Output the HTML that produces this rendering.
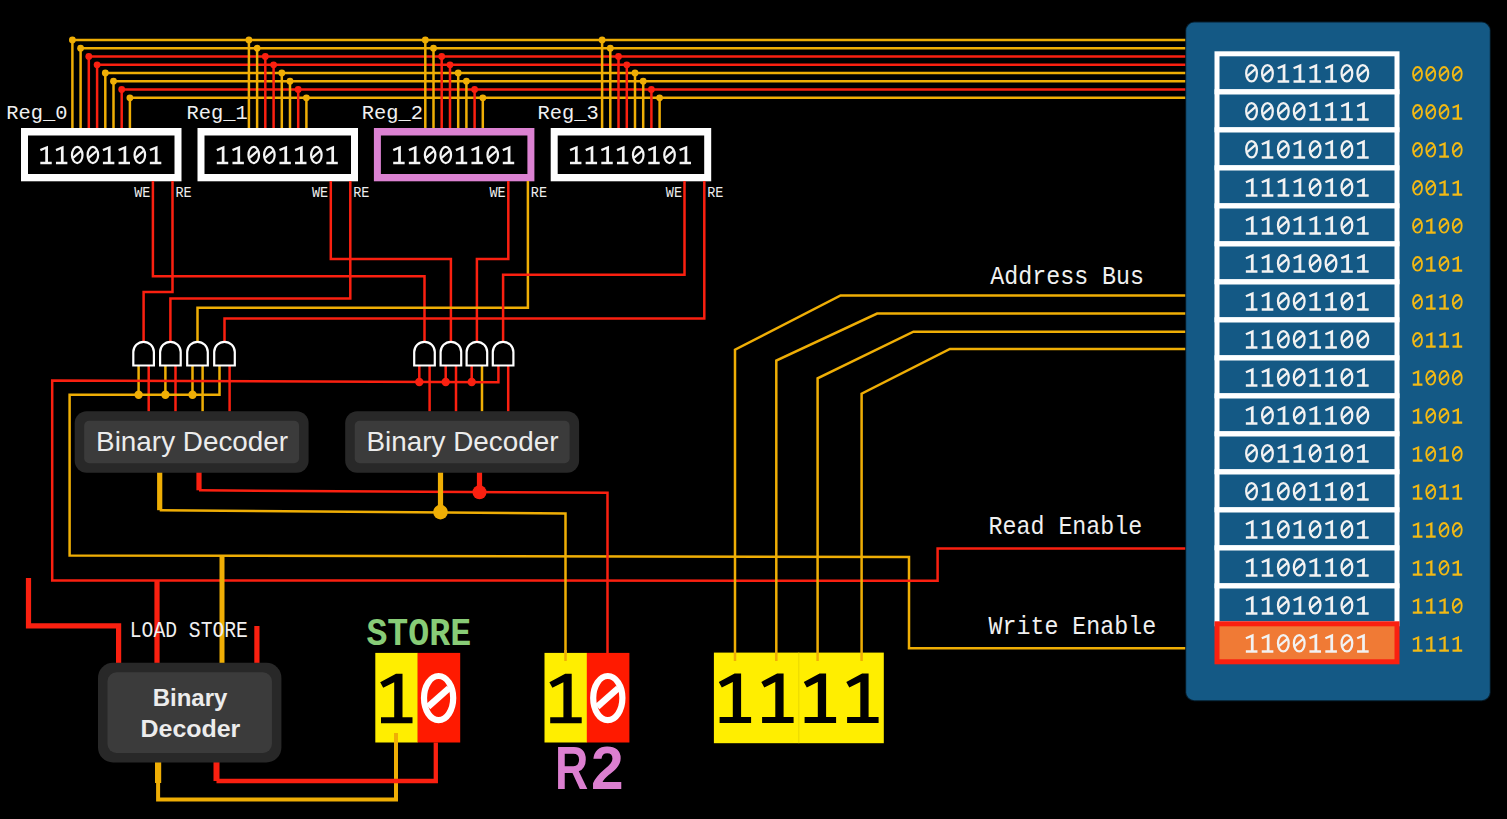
<!DOCTYPE html>
<html><head><meta charset="utf-8"><style>
html,body{margin:0;padding:0;background:#000;overflow:hidden}
svg{display:block}
</style></head><body>
<svg width="1507" height="819" viewBox="0 0 1507 819">
<rect width="1507" height="819" fill="#000"/>
<path d="M72.3 40.0 L1186.0 40.0" stroke="#efae05" stroke-width="2.5" fill="none" stroke-linejoin="miter" stroke-linecap="butt"/>
<path d="M80.5 48.2 L1186.0 48.2" stroke="#efae05" stroke-width="2.5" fill="none" stroke-linejoin="miter" stroke-linecap="butt"/>
<path d="M88.7 56.5 L1186.0 56.5" stroke="#fa2010" stroke-width="2.5" fill="none" stroke-linejoin="miter" stroke-linecap="butt"/>
<path d="M97.0 64.8 L1186.0 64.8" stroke="#fa2010" stroke-width="2.5" fill="none" stroke-linejoin="miter" stroke-linecap="butt"/>
<path d="M105.2 73.0 L1186.0 73.0" stroke="#efae05" stroke-width="2.5" fill="none" stroke-linejoin="miter" stroke-linecap="butt"/>
<path d="M113.4 81.2 L1186.0 81.2" stroke="#efae05" stroke-width="2.5" fill="none" stroke-linejoin="miter" stroke-linecap="butt"/>
<path d="M121.6 89.5 L1186.0 89.5" stroke="#fa2010" stroke-width="2.5" fill="none" stroke-linejoin="miter" stroke-linecap="butt"/>
<path d="M129.8 97.8 L1186.0 97.8" stroke="#efae05" stroke-width="2.5" fill="none" stroke-linejoin="miter" stroke-linecap="butt"/>
<path d="M72.4 40.0 L72.4 129.0" stroke="#efae05" stroke-width="2.5" fill="none" stroke-linejoin="miter" stroke-linecap="butt"/>
<circle cx="72.4" cy="40.0" r="3.4" fill="#efae05"/>
<path d="M80.6 48.2 L80.6 129.0" stroke="#efae05" stroke-width="2.5" fill="none" stroke-linejoin="miter" stroke-linecap="butt"/>
<circle cx="80.6" cy="48.2" r="3.4" fill="#efae05"/>
<path d="M88.8 56.5 L88.8 129.0" stroke="#fa2010" stroke-width="2.5" fill="none" stroke-linejoin="miter" stroke-linecap="butt"/>
<circle cx="88.8" cy="56.5" r="3.4" fill="#fa2010"/>
<path d="M97.1 64.8 L97.1 129.0" stroke="#fa2010" stroke-width="2.5" fill="none" stroke-linejoin="miter" stroke-linecap="butt"/>
<circle cx="97.1" cy="64.8" r="3.4" fill="#fa2010"/>
<path d="M105.3 73.0 L105.3 129.0" stroke="#efae05" stroke-width="2.5" fill="none" stroke-linejoin="miter" stroke-linecap="butt"/>
<circle cx="105.3" cy="73.0" r="3.4" fill="#efae05"/>
<path d="M113.5 81.2 L113.5 129.0" stroke="#efae05" stroke-width="2.5" fill="none" stroke-linejoin="miter" stroke-linecap="butt"/>
<circle cx="113.5" cy="81.2" r="3.4" fill="#efae05"/>
<path d="M121.7 89.5 L121.7 129.0" stroke="#fa2010" stroke-width="2.5" fill="none" stroke-linejoin="miter" stroke-linecap="butt"/>
<circle cx="121.7" cy="89.5" r="3.4" fill="#fa2010"/>
<path d="M129.9 97.8 L129.9 129.0" stroke="#efae05" stroke-width="2.5" fill="none" stroke-linejoin="miter" stroke-linecap="butt"/>
<circle cx="129.9" cy="97.8" r="3.4" fill="#efae05"/>
<path d="M248.9 40.0 L248.9 129.0" stroke="#efae05" stroke-width="2.5" fill="none" stroke-linejoin="miter" stroke-linecap="butt"/>
<circle cx="248.9" cy="40.0" r="3.4" fill="#efae05"/>
<path d="M257.1 48.2 L257.1 129.0" stroke="#efae05" stroke-width="2.5" fill="none" stroke-linejoin="miter" stroke-linecap="butt"/>
<circle cx="257.1" cy="48.2" r="3.4" fill="#efae05"/>
<path d="M265.3 56.5 L265.3 129.0" stroke="#fa2010" stroke-width="2.5" fill="none" stroke-linejoin="miter" stroke-linecap="butt"/>
<circle cx="265.3" cy="56.5" r="3.4" fill="#fa2010"/>
<path d="M273.6 64.8 L273.6 129.0" stroke="#fa2010" stroke-width="2.5" fill="none" stroke-linejoin="miter" stroke-linecap="butt"/>
<circle cx="273.6" cy="64.8" r="3.4" fill="#fa2010"/>
<path d="M281.8 73.0 L281.8 129.0" stroke="#efae05" stroke-width="2.5" fill="none" stroke-linejoin="miter" stroke-linecap="butt"/>
<circle cx="281.8" cy="73.0" r="3.4" fill="#efae05"/>
<path d="M290.0 81.2 L290.0 129.0" stroke="#efae05" stroke-width="2.5" fill="none" stroke-linejoin="miter" stroke-linecap="butt"/>
<circle cx="290.0" cy="81.2" r="3.4" fill="#efae05"/>
<path d="M298.2 89.5 L298.2 129.0" stroke="#fa2010" stroke-width="2.5" fill="none" stroke-linejoin="miter" stroke-linecap="butt"/>
<circle cx="298.2" cy="89.5" r="3.4" fill="#fa2010"/>
<path d="M306.4 97.8 L306.4 129.0" stroke="#efae05" stroke-width="2.5" fill="none" stroke-linejoin="miter" stroke-linecap="butt"/>
<circle cx="306.4" cy="97.8" r="3.4" fill="#efae05"/>
<path d="M425.3 40.0 L425.3 129.0" stroke="#efae05" stroke-width="2.5" fill="none" stroke-linejoin="miter" stroke-linecap="butt"/>
<circle cx="425.3" cy="40.0" r="3.4" fill="#efae05"/>
<path d="M433.5 48.2 L433.5 129.0" stroke="#efae05" stroke-width="2.5" fill="none" stroke-linejoin="miter" stroke-linecap="butt"/>
<circle cx="433.5" cy="48.2" r="3.4" fill="#efae05"/>
<path d="M441.7 56.5 L441.7 129.0" stroke="#fa2010" stroke-width="2.5" fill="none" stroke-linejoin="miter" stroke-linecap="butt"/>
<circle cx="441.7" cy="56.5" r="3.4" fill="#fa2010"/>
<path d="M450.0 64.8 L450.0 129.0" stroke="#fa2010" stroke-width="2.5" fill="none" stroke-linejoin="miter" stroke-linecap="butt"/>
<circle cx="450.0" cy="64.8" r="3.4" fill="#fa2010"/>
<path d="M458.2 73.0 L458.2 129.0" stroke="#efae05" stroke-width="2.5" fill="none" stroke-linejoin="miter" stroke-linecap="butt"/>
<circle cx="458.2" cy="73.0" r="3.4" fill="#efae05"/>
<path d="M466.4 81.2 L466.4 129.0" stroke="#efae05" stroke-width="2.5" fill="none" stroke-linejoin="miter" stroke-linecap="butt"/>
<circle cx="466.4" cy="81.2" r="3.4" fill="#efae05"/>
<path d="M474.6 89.5 L474.6 129.0" stroke="#fa2010" stroke-width="2.5" fill="none" stroke-linejoin="miter" stroke-linecap="butt"/>
<circle cx="474.6" cy="89.5" r="3.4" fill="#fa2010"/>
<path d="M482.8 97.8 L482.8 129.0" stroke="#efae05" stroke-width="2.5" fill="none" stroke-linejoin="miter" stroke-linecap="butt"/>
<circle cx="482.8" cy="97.8" r="3.4" fill="#efae05"/>
<path d="M602.1 40.0 L602.1 129.0" stroke="#efae05" stroke-width="2.5" fill="none" stroke-linejoin="miter" stroke-linecap="butt"/>
<circle cx="602.1" cy="40.0" r="3.4" fill="#efae05"/>
<path d="M610.3 48.2 L610.3 129.0" stroke="#efae05" stroke-width="2.5" fill="none" stroke-linejoin="miter" stroke-linecap="butt"/>
<circle cx="610.3" cy="48.2" r="3.4" fill="#efae05"/>
<path d="M618.5 56.5 L618.5 129.0" stroke="#fa2010" stroke-width="2.5" fill="none" stroke-linejoin="miter" stroke-linecap="butt"/>
<circle cx="618.5" cy="56.5" r="3.4" fill="#fa2010"/>
<path d="M626.8 64.8 L626.8 129.0" stroke="#fa2010" stroke-width="2.5" fill="none" stroke-linejoin="miter" stroke-linecap="butt"/>
<circle cx="626.8" cy="64.8" r="3.4" fill="#fa2010"/>
<path d="M635.0 73.0 L635.0 129.0" stroke="#efae05" stroke-width="2.5" fill="none" stroke-linejoin="miter" stroke-linecap="butt"/>
<circle cx="635.0" cy="73.0" r="3.4" fill="#efae05"/>
<path d="M643.2 81.2 L643.2 129.0" stroke="#efae05" stroke-width="2.5" fill="none" stroke-linejoin="miter" stroke-linecap="butt"/>
<circle cx="643.2" cy="81.2" r="3.4" fill="#efae05"/>
<path d="M651.4 89.5 L651.4 129.0" stroke="#fa2010" stroke-width="2.5" fill="none" stroke-linejoin="miter" stroke-linecap="butt"/>
<circle cx="651.4" cy="89.5" r="3.4" fill="#fa2010"/>
<path d="M659.6 97.8 L659.6 129.0" stroke="#efae05" stroke-width="2.5" fill="none" stroke-linejoin="miter" stroke-linecap="butt"/>
<circle cx="659.6" cy="97.8" r="3.4" fill="#efae05"/>
<rect x="21.0" y="128.0" width="160.5" height="53.3" rx="0.0" fill="#ffffff" />
<rect x="28.0" y="135.5" width="146.5" height="38.5" rx="0.0" fill="#000" />
<g fill="none" stroke="#f4f4f4" stroke-width="2.22"><ellipse cx="77.22" cy="155.01" rx="5.27" ry="8.06"/><path d="M72.91 157.93 L81.49 150.52"/><ellipse cx="92.87" cy="155.01" rx="5.27" ry="8.06"/><path d="M88.56 157.93 L97.14 150.52"/><ellipse cx="139.83" cy="155.01" rx="5.27" ry="8.06"/><path d="M135.51 157.93 L144.09 150.52"/></g>
<g fill="#f4f4f4"><path d="M47.98 145.71 L47.98 163.06 L45.26 163.06 L45.26 149.22 L40.82 151.17 L39.91 149.09 Z M40.30 161.83 H51.74 V164.30 H40.30 Z"/><path d="M63.63 145.71 L63.63 163.06 L60.91 163.06 L60.91 149.22 L56.47 151.17 L55.56 149.09 Z M55.95 161.83 H67.39 V164.30 H55.95 Z"/><path d="M110.59 145.71 L110.59 163.06 L107.87 163.06 L107.87 149.22 L103.43 151.17 L102.52 149.09 Z M102.91 161.83 H114.35 V164.30 H102.91 Z"/><path d="M126.24 145.71 L126.24 163.06 L123.52 163.06 L123.52 149.22 L119.08 151.17 L118.17 149.09 Z M118.56 161.83 H130.00 V164.30 H118.56 Z"/><path d="M157.54 145.71 L157.54 163.06 L154.83 163.06 L154.83 149.22 L150.39 151.17 L149.48 149.09 Z M149.87 161.83 H161.31 V164.30 H149.87 Z"/></g>
<text transform="translate(6.30 118.90) scale(1.000 0.970)" font-family="'Liberation Mono', monospace" font-size="20.4" fill="#f0f0f0" text-anchor="start" font-weight="normal">Reg_0</text>
<text transform="translate(150.40 196.80) scale(1.000 1.100)" font-family="'Liberation Mono', monospace" font-size="13.5" fill="#eee" text-anchor="end" font-weight="normal">WE</text>
<text transform="translate(175.40 196.80) scale(1.000 1.100)" font-family="'Liberation Mono', monospace" font-size="13.5" fill="#eee" text-anchor="start" font-weight="normal">RE</text>
<rect x="197.5" y="128.0" width="160.5" height="53.3" rx="0.0" fill="#ffffff" />
<rect x="204.5" y="135.5" width="146.5" height="38.5" rx="0.0" fill="#000" />
<g fill="none" stroke="#f4f4f4" stroke-width="2.22"><ellipse cx="253.72" cy="155.01" rx="5.27" ry="8.06"/><path d="M249.41 157.93 L257.99 150.52"/><ellipse cx="269.37" cy="155.01" rx="5.27" ry="8.06"/><path d="M265.06 157.93 L273.64 150.52"/><ellipse cx="316.33" cy="155.01" rx="5.27" ry="8.06"/><path d="M312.01 157.93 L320.59 150.52"/></g>
<g fill="#f4f4f4"><path d="M224.48 145.71 L224.48 163.06 L221.76 163.06 L221.76 149.22 L217.32 151.17 L216.41 149.09 Z M216.80 161.83 H228.24 V164.30 H216.80 Z"/><path d="M240.13 145.71 L240.13 163.06 L237.41 163.06 L237.41 149.22 L232.97 151.17 L232.06 149.09 Z M232.45 161.83 H243.89 V164.30 H232.45 Z"/><path d="M287.09 145.71 L287.09 163.06 L284.37 163.06 L284.37 149.22 L279.93 151.17 L279.02 149.09 Z M279.41 161.83 H290.85 V164.30 H279.41 Z"/><path d="M302.74 145.71 L302.74 163.06 L300.02 163.06 L300.02 149.22 L295.58 151.17 L294.67 149.09 Z M295.06 161.83 H306.50 V164.30 H295.06 Z"/><path d="M334.04 145.71 L334.04 163.06 L331.33 163.06 L331.33 149.22 L326.89 151.17 L325.98 149.09 Z M326.37 161.83 H337.81 V164.30 H326.37 Z"/></g>
<text transform="translate(186.50 118.90) scale(1.000 0.970)" font-family="'Liberation Mono', monospace" font-size="20.4" fill="#f0f0f0" text-anchor="start" font-weight="normal">Reg_1</text>
<text transform="translate(328.20 196.80) scale(1.000 1.100)" font-family="'Liberation Mono', monospace" font-size="13.5" fill="#eee" text-anchor="end" font-weight="normal">WE</text>
<text transform="translate(353.20 196.80) scale(1.000 1.100)" font-family="'Liberation Mono', monospace" font-size="13.5" fill="#eee" text-anchor="start" font-weight="normal">RE</text>
<rect x="373.9" y="128.0" width="160.5" height="53.3" rx="0.0" fill="#dc82d2" />
<rect x="380.9" y="135.5" width="146.5" height="38.5" rx="0.0" fill="#000" />
<g fill="none" stroke="#f4f4f4" stroke-width="2.22"><ellipse cx="430.12" cy="155.01" rx="5.27" ry="8.06"/><path d="M425.81 157.93 L434.39 150.52"/><ellipse cx="445.77" cy="155.01" rx="5.27" ry="8.06"/><path d="M441.46 157.93 L450.04 150.52"/><ellipse cx="492.73" cy="155.01" rx="5.27" ry="8.06"/><path d="M488.41 157.93 L496.99 150.52"/></g>
<g fill="#f4f4f4"><path d="M400.88 145.71 L400.88 163.06 L398.16 163.06 L398.16 149.22 L393.72 151.17 L392.81 149.09 Z M393.20 161.83 H404.64 V164.30 H393.20 Z"/><path d="M416.53 145.71 L416.53 163.06 L413.81 163.06 L413.81 149.22 L409.37 151.17 L408.46 149.09 Z M408.85 161.83 H420.29 V164.30 H408.85 Z"/><path d="M463.49 145.71 L463.49 163.06 L460.77 163.06 L460.77 149.22 L456.33 151.17 L455.42 149.09 Z M455.81 161.83 H467.25 V164.30 H455.81 Z"/><path d="M479.14 145.71 L479.14 163.06 L476.42 163.06 L476.42 149.22 L471.98 151.17 L471.07 149.09 Z M471.46 161.83 H482.90 V164.30 H471.46 Z"/><path d="M510.44 145.71 L510.44 163.06 L507.73 163.06 L507.73 149.22 L503.29 151.17 L502.38 149.09 Z M502.77 161.83 H514.21 V164.30 H502.77 Z"/></g>
<text transform="translate(361.80 118.90) scale(1.000 0.970)" font-family="'Liberation Mono', monospace" font-size="20.4" fill="#f0f0f0" text-anchor="start" font-weight="normal">Reg_2</text>
<text transform="translate(505.70 196.80) scale(1.000 1.100)" font-family="'Liberation Mono', monospace" font-size="13.5" fill="#eee" text-anchor="end" font-weight="normal">WE</text>
<text transform="translate(530.80 196.80) scale(1.000 1.100)" font-family="'Liberation Mono', monospace" font-size="13.5" fill="#eee" text-anchor="start" font-weight="normal">RE</text>
<rect x="550.7" y="128.0" width="160.5" height="53.3" rx="0.0" fill="#ffffff" />
<rect x="557.7" y="135.5" width="146.5" height="38.5" rx="0.0" fill="#000" />
<g fill="none" stroke="#f4f4f4" stroke-width="2.22"><ellipse cx="638.23" cy="155.01" rx="5.27" ry="8.06"/><path d="M633.91 157.93 L642.49 150.52"/><ellipse cx="669.53" cy="155.01" rx="5.27" ry="8.06"/><path d="M665.21 157.93 L673.79 150.52"/></g>
<g fill="#f4f4f4"><path d="M577.68 145.71 L577.68 163.06 L574.96 163.06 L574.96 149.22 L570.52 151.17 L569.61 149.09 Z M570.00 161.83 H581.44 V164.30 H570.00 Z"/><path d="M593.33 145.71 L593.33 163.06 L590.61 163.06 L590.61 149.22 L586.17 151.17 L585.26 149.09 Z M585.65 161.83 H597.09 V164.30 H585.65 Z"/><path d="M608.98 145.71 L608.98 163.06 L606.27 163.06 L606.27 149.22 L601.83 151.17 L600.92 149.09 Z M601.31 161.83 H612.75 V164.30 H601.31 Z"/><path d="M624.63 145.71 L624.63 163.06 L621.92 163.06 L621.92 149.22 L617.48 151.17 L616.57 149.09 Z M616.96 161.83 H628.40 V164.30 H616.96 Z"/><path d="M655.94 145.71 L655.94 163.06 L653.22 163.06 L653.22 149.22 L648.78 151.17 L647.87 149.09 Z M648.26 161.83 H659.70 V164.30 H648.26 Z"/><path d="M687.24 145.71 L687.24 163.06 L684.53 163.06 L684.53 149.22 L680.09 151.17 L679.18 149.09 Z M679.57 161.83 H691.01 V164.30 H679.57 Z"/></g>
<text transform="translate(537.60 118.90) scale(1.000 0.970)" font-family="'Liberation Mono', monospace" font-size="20.4" fill="#f0f0f0" text-anchor="start" font-weight="normal">Reg_3</text>
<text transform="translate(682.00 196.80) scale(1.000 1.100)" font-family="'Liberation Mono', monospace" font-size="13.5" fill="#eee" text-anchor="end" font-weight="normal">WE</text>
<text transform="translate(707.20 196.80) scale(1.000 1.100)" font-family="'Liberation Mono', monospace" font-size="13.5" fill="#eee" text-anchor="start" font-weight="normal">RE</text>
<path d="M152.9 181.0 L152.9 276.2 L424.5 276.2 L424.5 341.0" stroke="#fa2010" stroke-width="2.5" fill="none" stroke-linejoin="miter" stroke-linecap="butt"/>
<path d="M172.5 181.0 L172.5 292.1 L143.6 292.1 L143.6 341.0" stroke="#fa2010" stroke-width="2.5" fill="none" stroke-linejoin="miter" stroke-linecap="butt"/>
<path d="M330.8 181.0 L330.8 259.0 L450.9 259.0 L450.9 341.0" stroke="#fa2010" stroke-width="2.5" fill="none" stroke-linejoin="miter" stroke-linecap="butt"/>
<path d="M350.3 181.0 L350.3 298.5 L170.4 298.5 L170.4 341.0" stroke="#fa2010" stroke-width="2.5" fill="none" stroke-linejoin="miter" stroke-linecap="butt"/>
<path d="M508.3 181.0 L508.3 259.0 L476.9 259.0 L476.9 341.0" stroke="#fa2010" stroke-width="2.5" fill="none" stroke-linejoin="miter" stroke-linecap="butt"/>
<path d="M527.9 181.0 L527.9 307.8 L197.5 307.8 L197.5 341.0" stroke="#efae05" stroke-width="2.5" fill="none" stroke-linejoin="miter" stroke-linecap="butt"/>
<path d="M684.5 181.0 L684.5 274.8 L503.1 274.8 L503.1 341.0" stroke="#fa2010" stroke-width="2.5" fill="none" stroke-linejoin="miter" stroke-linecap="butt"/>
<path d="M704.3 181.0 L704.3 318.6 L224.5 318.6 L224.5 341.0" stroke="#fa2010" stroke-width="2.5" fill="none" stroke-linejoin="miter" stroke-linecap="butt"/>
<path d="M148.7 366.0 L148.7 411.5" stroke="#fa2010" stroke-width="2.5" fill="none" stroke-linejoin="miter" stroke-linecap="butt"/>
<path d="M175.5 366.0 L175.5 411.5" stroke="#fa2010" stroke-width="2.5" fill="none" stroke-linejoin="miter" stroke-linecap="butt"/>
<path d="M202.6 366.0 L202.6 411.5" stroke="#efae05" stroke-width="2.5" fill="none" stroke-linejoin="miter" stroke-linecap="butt"/>
<path d="M229.6 366.0 L229.6 411.5" stroke="#fa2010" stroke-width="2.5" fill="none" stroke-linejoin="miter" stroke-linecap="butt"/>
<path d="M138.6 366.0 L138.6 394.7" stroke="#efae05" stroke-width="2.5" fill="none" stroke-linejoin="miter" stroke-linecap="butt"/>
<path d="M165.4 366.0 L165.4 394.7" stroke="#efae05" stroke-width="2.5" fill="none" stroke-linejoin="miter" stroke-linecap="butt"/>
<path d="M192.5 366.0 L192.5 394.7" stroke="#efae05" stroke-width="2.5" fill="none" stroke-linejoin="miter" stroke-linecap="butt"/>
<path d="M429.6 366.0 L429.6 411.5" stroke="#fa2010" stroke-width="2.5" fill="none" stroke-linejoin="miter" stroke-linecap="butt"/>
<path d="M456.0 366.0 L456.0 411.5" stroke="#fa2010" stroke-width="2.5" fill="none" stroke-linejoin="miter" stroke-linecap="butt"/>
<path d="M482.0 366.0 L482.0 411.5" stroke="#efae05" stroke-width="2.5" fill="none" stroke-linejoin="miter" stroke-linecap="butt"/>
<path d="M508.2 366.0 L508.2 411.5" stroke="#fa2010" stroke-width="2.5" fill="none" stroke-linejoin="miter" stroke-linecap="butt"/>
<path d="M419.3 366.0 L419.3 382.0" stroke="#fa2010" stroke-width="2.5" fill="none" stroke-linejoin="miter" stroke-linecap="butt"/>
<path d="M445.7 366.0 L445.7 382.0" stroke="#fa2010" stroke-width="2.5" fill="none" stroke-linejoin="miter" stroke-linecap="butt"/>
<path d="M471.7 366.0 L471.7 382.0" stroke="#fa2010" stroke-width="2.5" fill="none" stroke-linejoin="miter" stroke-linecap="butt"/>
<path d="M219.5 366.0 L219.5 394.7 L69.6 394.7 L69.6 555.5 L909.0 556.9 L909.0 648.2 L1186.0 648.2" stroke="#efae05" stroke-width="2.5" fill="none" stroke-linejoin="miter" stroke-linecap="butt"/>
<path d="M498.4 366.0 L498.4 382.2 L52.2 380.6 L52.2 580.4 L937.6 580.8 L937.6 548.4 L1186.0 548.4" stroke="#fa2010" stroke-width="2.5" fill="none" stroke-linejoin="miter" stroke-linecap="butt"/>
<circle cx="138.6" cy="394.7" r="4.2" fill="#efae05"/>
<circle cx="165.4" cy="394.7" r="4.2" fill="#efae05"/>
<circle cx="192.5" cy="394.7" r="4.2" fill="#efae05"/>
<circle cx="419.3" cy="382.0" r="4.2" fill="#fa2010"/>
<circle cx="445.7" cy="382.0" r="4.2" fill="#fa2010"/>
<circle cx="471.7" cy="382.0" r="4.2" fill="#fa2010"/>
<path d="M133.3 365.5 L153.9 365.5 L153.9 352.1 A10.3 10.3 0 0 0 133.3 352.1 Z" stroke="#fff" stroke-width="2.2" fill="#000"/>
<path d="M160.1 365.5 L180.7 365.5 L180.7 352.1 A10.3 10.3 0 0 0 160.1 352.1 Z" stroke="#fff" stroke-width="2.2" fill="#000"/>
<path d="M187.2 365.5 L207.8 365.5 L207.8 352.1 A10.3 10.3 0 0 0 187.2 352.1 Z" stroke="#fff" stroke-width="2.2" fill="#000"/>
<path d="M214.2 365.5 L234.8 365.5 L234.8 352.1 A10.3 10.3 0 0 0 214.2 352.1 Z" stroke="#fff" stroke-width="2.2" fill="#000"/>
<path d="M414.2 365.5 L434.8 365.5 L434.8 352.1 A10.3 10.3 0 0 0 414.2 352.1 Z" stroke="#fff" stroke-width="2.2" fill="#000"/>
<path d="M440.6 365.5 L461.2 365.5 L461.2 352.1 A10.3 10.3 0 0 0 440.6 352.1 Z" stroke="#fff" stroke-width="2.2" fill="#000"/>
<path d="M466.6 365.5 L487.2 365.5 L487.2 352.1 A10.3 10.3 0 0 0 466.6 352.1 Z" stroke="#fff" stroke-width="2.2" fill="#000"/>
<path d="M492.8 365.5 L513.4 365.5 L513.4 352.1 A10.3 10.3 0 0 0 492.8 352.1 Z" stroke="#fff" stroke-width="2.2" fill="#000"/>
<path d="M159.7 472.0 L159.7 510.2" stroke="#efae05" stroke-width="5.2" fill="none" stroke-linejoin="miter" stroke-linecap="butt"/>
<path d="M159.7 510.2 L565.5 513.5 L565.5 661.0" stroke="#efae05" stroke-width="2.5" fill="none" stroke-linejoin="miter" stroke-linecap="butt"/>
<path d="M199.0 472.0 L199.0 490.3" stroke="#fa2010" stroke-width="5.2" fill="none" stroke-linejoin="miter" stroke-linecap="butt"/>
<path d="M199.0 490.3 L607.5 492.8 L607.5 653.0" stroke="#fa2010" stroke-width="2.5" fill="none" stroke-linejoin="miter" stroke-linecap="butt"/>
<path d="M440.5 472.0 L440.5 512.0" stroke="#efae05" stroke-width="5.2" fill="none" stroke-linejoin="miter" stroke-linecap="butt"/>
<circle cx="440.5" cy="512.1" r="7.3" fill="#efae05"/>
<path d="M479.5 472.0 L479.5 492.0" stroke="#fa2010" stroke-width="5.2" fill="none" stroke-linejoin="miter" stroke-linecap="butt"/>
<circle cx="479.5" cy="492.2" r="7.0" fill="#fa2010"/>
<rect x="74.7" y="411.3" width="233.9" height="61.5" rx="12.0" fill="#282828" />
<rect x="84.2" y="420.8" width="214.9" height="42.5" rx="5.0" fill="#3b3b3b" />
<rect x="345.2" y="411.3" width="233.9" height="61.5" rx="12.0" fill="#282828" />
<rect x="354.7" y="420.8" width="214.9" height="42.5" rx="5.0" fill="#3b3b3b" />
<text transform="translate(192.10 451.00) scale(1.010 0.970)" font-family="'Liberation Sans', sans-serif" font-size="27.6" fill="#ececec" text-anchor="middle" font-weight="normal">Binary Decoder</text>
<text transform="translate(462.50 451.00) scale(1.010 0.970)" font-family="'Liberation Sans', sans-serif" font-size="27.6" fill="#ececec" text-anchor="middle" font-weight="normal">Binary Decoder</text>
<path d="M28.5 578.0 L28.5 625.8 L118.6 625.8 L118.6 663.0" stroke="#fa2010" stroke-width="5.2" fill="none" stroke-linejoin="miter" stroke-linecap="butt"/>
<path d="M157.0 580.4 L157.0 663.0" stroke="#fa2010" stroke-width="5.2" fill="none" stroke-linejoin="miter" stroke-linecap="butt"/>
<path d="M222.0 555.5 L222.0 663.0" stroke="#efae05" stroke-width="5.0" fill="none" stroke-linejoin="miter" stroke-linecap="butt"/>
<path d="M256.9 626.0 L256.9 663.0" stroke="#fa2010" stroke-width="5.2" fill="none" stroke-linejoin="miter" stroke-linecap="butt"/>
<path d="M158.1 762.0 L158.1 783.0" stroke="#efae05" stroke-width="6.2" fill="none" stroke-linejoin="miter" stroke-linecap="butt"/>
<path d="M158.1 783.0 L158.1 799.4 L396.0 799.4 L396.0 733.0" stroke="#efae05" stroke-width="4.0" fill="none" stroke-linejoin="miter" stroke-linecap="butt"/>
<path d="M216.5 762.0 L216.5 781.0" stroke="#fa2010" stroke-width="6.0" fill="none" stroke-linejoin="miter" stroke-linecap="butt"/>
<path d="M216.5 781.0 L435.8 781.0 L435.8 742.5" stroke="#fa2010" stroke-width="4.3" fill="none" stroke-linejoin="miter" stroke-linecap="butt"/>
<rect x="98.0" y="662.8" width="183.4" height="99.6" rx="15.0" fill="#282828" />
<rect x="107.5" y="672.3" width="164.4" height="80.6" rx="9.0" fill="#3b3b3b" />
<text transform="translate(190.00 705.50) scale(1.000 1.000)" font-family="'Liberation Sans', sans-serif" font-size="24.0" fill="#ececec" text-anchor="middle" font-weight="bold">Binary</text>
<text transform="translate(190.40 736.60) scale(1.040 0.970)" font-family="'Liberation Sans', sans-serif" font-size="24.0" fill="#ececec" text-anchor="middle" font-weight="bold">Decoder</text>
<text transform="translate(129.80 636.50) scale(1.000 1.100)" font-family="'Liberation Mono', monospace" font-size="19.7" fill="#f0f0f0" text-anchor="start" font-weight="normal">LOAD STORE</text>
<rect x="375.3" y="652.9" width="42.6" height="89.6" rx="0.0" fill="#ffee00" />
<rect x="417.6" y="652.9" width="42.6" height="89.6" rx="0.0" fill="#ff1a00" />
<path d="M402.5 673.7 L402.5 717.9 L394.2 717.9 L394.2 682.2 L383.2 687.7 L380.2 682.2 L396.0 673.7 Z M381.0 717.2 H412.5 V723.2 H381.0 Z" fill="#000"/>
<ellipse cx="438.6" cy="698.1" rx="14.6" ry="22.1" fill="none" stroke="#fff" stroke-width="6.2"/>
<path d="M428.1 706.7 L449.1 688.1" stroke="#fff" stroke-width="6.5"/>
<rect x="544.5" y="652.9" width="42.6" height="89.6" rx="0.0" fill="#ffee00" />
<rect x="586.8" y="652.9" width="42.6" height="89.6" rx="0.0" fill="#ff1a00" />
<path d="M571.7 673.7 L571.7 717.9 L563.4 717.9 L563.4 682.2 L552.4 687.7 L549.4 682.2 L565.2 673.7 Z M550.2 717.2 H581.7 V723.2 H550.2 Z" fill="#000"/>
<ellipse cx="607.8" cy="698.1" rx="14.6" ry="22.1" fill="none" stroke="#fff" stroke-width="6.2"/>
<path d="M597.3 706.7 L618.3 688.1" stroke="#fff" stroke-width="6.5"/>
<rect x="713.9" y="652.6" width="169.9" height="90.6" rx="0.0" fill="#ffee00" />
<path d="M798.8 652.6 V743.2" stroke="#e8d800" stroke-width="1"/>
<path d="M741.1 673.4 L741.1 717.6 L732.8 717.6 L732.8 681.9 L721.8 687.4 L718.8 681.9 L734.6 673.4 Z M719.6 716.9 H751.1 V722.9 H719.6 Z" fill="#000"/>
<path d="M783.6 673.4 L783.6 717.6 L775.3 717.6 L775.3 681.9 L764.3 687.4 L761.3 681.9 L777.1 673.4 Z M762.1 716.9 H793.6 V722.9 H762.1 Z" fill="#000"/>
<path d="M826.1 673.4 L826.1 717.6 L817.8 717.6 L817.8 681.9 L806.8 687.4 L803.8 681.9 L819.6 673.4 Z M804.6 716.9 H836.1 V722.9 H804.6 Z" fill="#000"/>
<path d="M868.6 673.4 L868.6 717.6 L860.3 717.6 L860.3 681.9 L849.3 687.4 L846.3 681.9 L862.1 673.4 Z M847.1 716.9 H878.6 V722.9 H847.1 Z" fill="#000"/>
<path d="M565.5 650.0 L565.5 661.0" stroke="#efae05" stroke-width="2.5" fill="none" stroke-linejoin="miter" stroke-linecap="butt"/>
<path d="M396.0 745.0 L396.0 733.0" stroke="#efae05" stroke-width="4.0" fill="none" stroke-linejoin="miter" stroke-linecap="butt"/>
<text transform="translate(366.40 645.00) scale(1.000 1.100)" font-family="'Liberation Mono', monospace" font-size="34.9" fill="#88cc77" text-anchor="start" font-weight="bold">STORE</text>
<text transform="translate(555.10 788.80) scale(0.857 1.120)" font-family="'Liberation Sans', sans-serif" font-size="53.8" fill="#dc7fd0" text-anchor="start" font-weight="bold">R</text>
<text transform="translate(590.90 788.80) scale(1.090 1.120)" font-family="'Liberation Sans', sans-serif" font-size="53.8" fill="#dc7fd0" text-anchor="start" font-weight="bold">2</text>
<path d="M735.0 661.0 L735.0 349.7 L840.6 295.5 L1186.0 295.5" stroke="#efae05" stroke-width="2.5" fill="none" stroke-linejoin="miter" stroke-linecap="butt"/>
<path d="M776.3 661.0 L776.3 360.5 L877.1 313.5 L1186.0 313.5" stroke="#efae05" stroke-width="2.5" fill="none" stroke-linejoin="miter" stroke-linecap="butt"/>
<path d="M817.6 661.0 L817.6 378.4 L913.4 331.7 L1186.0 331.7" stroke="#efae05" stroke-width="2.5" fill="none" stroke-linejoin="miter" stroke-linecap="butt"/>
<path d="M861.6 661.0 L861.6 393.7 L949.9 349.0 L1186.0 349.0" stroke="#efae05" stroke-width="2.5" fill="none" stroke-linejoin="miter" stroke-linecap="butt"/>
<text transform="translate(990.30 284.40) scale(1.000 1.100)" font-family="'Liberation Mono', monospace" font-size="23.3" fill="#f0f0f0" text-anchor="start" font-weight="normal">Address Bus</text>
<text transform="translate(988.50 533.70) scale(1.000 1.100)" font-family="'Liberation Mono', monospace" font-size="23.3" fill="#f0f0f0" text-anchor="start" font-weight="normal">Read Enable</text>
<text transform="translate(988.50 633.80) scale(1.000 1.100)" font-family="'Liberation Mono', monospace" font-size="23.3" fill="#f0f0f0" text-anchor="start" font-weight="normal">Write Enable</text>
<rect x="1185.2" y="21.6" width="305.6" height="679.6" rx="9.0" fill="#061c2a" />
<rect x="1186.2" y="22.6" width="303.6" height="677.6" rx="8.0" fill="#145985" />
<rect x="1217" y="53.8" width="180" height="38" fill="none" stroke="#fff" stroke-width="5"/>
<rect x="1217" y="91.8" width="180" height="38" fill="none" stroke="#fff" stroke-width="5"/>
<rect x="1217" y="129.8" width="180" height="38" fill="none" stroke="#fff" stroke-width="5"/>
<rect x="1217" y="167.8" width="180" height="38" fill="none" stroke="#fff" stroke-width="5"/>
<rect x="1217" y="205.8" width="180" height="38" fill="none" stroke="#fff" stroke-width="5"/>
<rect x="1217" y="243.8" width="180" height="38" fill="none" stroke="#fff" stroke-width="5"/>
<rect x="1217" y="281.8" width="180" height="38" fill="none" stroke="#fff" stroke-width="5"/>
<rect x="1217" y="319.8" width="180" height="38" fill="none" stroke="#fff" stroke-width="5"/>
<rect x="1217" y="357.8" width="180" height="38" fill="none" stroke="#fff" stroke-width="5"/>
<rect x="1217" y="395.8" width="180" height="38" fill="none" stroke="#fff" stroke-width="5"/>
<rect x="1217" y="433.8" width="180" height="38" fill="none" stroke="#fff" stroke-width="5"/>
<rect x="1217" y="471.8" width="180" height="38" fill="none" stroke="#fff" stroke-width="5"/>
<rect x="1217" y="509.8" width="180" height="38" fill="none" stroke="#fff" stroke-width="5"/>
<rect x="1217" y="547.8" width="180" height="38" fill="none" stroke="#fff" stroke-width="5"/>
<rect x="1217" y="585.8" width="180" height="38" fill="none" stroke="#fff" stroke-width="5"/>
<rect x="1217" y="623.8" width="180" height="38" fill="#f07a35" stroke="#fa2010" stroke-width="5"/>
<g fill="none" stroke="#f2f2f2" stroke-width="2.26"><ellipse cx="1251.55" cy="73.26" rx="5.35" ry="8.18"/><path d="M1247.16 76.23 L1255.88 68.71"/><ellipse cx="1267.44" cy="73.26" rx="5.35" ry="8.18"/><path d="M1263.06 76.23 L1271.77 68.71"/><ellipse cx="1346.90" cy="73.26" rx="5.35" ry="8.18"/><path d="M1342.52 76.23 L1351.23 68.71"/><ellipse cx="1362.80" cy="73.26" rx="5.35" ry="8.18"/><path d="M1358.41 76.23 L1367.13 68.71"/></g>
<g fill="#f2f2f2"><path d="M1285.42 63.82 L1285.42 81.45 L1282.67 81.45 L1282.67 67.39 L1278.16 69.37 L1277.23 67.26 Z M1277.63 80.19 H1289.25 V82.70 H1277.63 Z"/><path d="M1301.32 63.82 L1301.32 81.45 L1298.56 81.45 L1298.56 67.39 L1294.05 69.37 L1293.13 67.26 Z M1293.52 80.19 H1305.14 V82.70 H1293.52 Z"/><path d="M1317.21 63.82 L1317.21 81.45 L1314.45 81.45 L1314.45 67.39 L1309.94 69.37 L1309.02 67.26 Z M1309.42 80.19 H1321.03 V82.70 H1309.42 Z"/><path d="M1333.10 63.82 L1333.10 81.45 L1330.34 81.45 L1330.34 67.39 L1325.84 69.37 L1324.91 67.26 Z M1325.31 80.19 H1336.92 V82.70 H1325.31 Z"/></g>
<g fill="none" stroke="#f2b914" stroke-width="1.88"><ellipse cx="1417.52" cy="73.83" rx="4.46" ry="6.82"/><path d="M1413.87 76.31 L1421.13 70.04"/><ellipse cx="1430.77" cy="73.83" rx="4.46" ry="6.82"/><path d="M1427.11 76.31 L1434.37 70.04"/><ellipse cx="1444.01" cy="73.83" rx="4.46" ry="6.82"/><path d="M1440.36 76.31 L1447.62 70.04"/><ellipse cx="1457.25" cy="73.83" rx="4.46" ry="6.82"/><path d="M1453.60 76.31 L1460.86 70.04"/></g>
<g fill="none" stroke="#f2f2f2" stroke-width="2.26"><ellipse cx="1251.55" cy="111.26" rx="5.35" ry="8.18"/><path d="M1247.16 114.23 L1255.88 106.71"/><ellipse cx="1267.44" cy="111.26" rx="5.35" ry="8.18"/><path d="M1263.06 114.23 L1271.77 106.71"/><ellipse cx="1283.33" cy="111.26" rx="5.35" ry="8.18"/><path d="M1278.95 114.23 L1287.66 106.71"/><ellipse cx="1299.22" cy="111.26" rx="5.35" ry="8.18"/><path d="M1294.84 114.23 L1303.55 106.71"/></g>
<g fill="#f2f2f2"><path d="M1317.21 101.82 L1317.21 119.45 L1314.45 119.45 L1314.45 105.39 L1309.94 107.37 L1309.02 105.26 Z M1309.42 118.19 H1321.03 V120.70 H1309.42 Z"/><path d="M1333.10 101.82 L1333.10 119.45 L1330.34 119.45 L1330.34 105.39 L1325.84 107.37 L1324.91 105.26 Z M1325.31 118.19 H1336.92 V120.70 H1325.31 Z"/><path d="M1349.00 101.82 L1349.00 119.45 L1346.24 119.45 L1346.24 105.39 L1341.73 107.37 L1340.80 105.26 Z M1341.20 118.19 H1352.82 V120.70 H1341.20 Z"/><path d="M1364.89 101.82 L1364.89 119.45 L1362.13 119.45 L1362.13 105.39 L1357.62 107.37 L1356.70 105.26 Z M1357.09 118.19 H1368.71 V120.70 H1357.09 Z"/></g>
<g fill="none" stroke="#f2b914" stroke-width="1.88"><ellipse cx="1417.52" cy="111.83" rx="4.46" ry="6.82"/><path d="M1413.87 114.31 L1421.13 108.04"/><ellipse cx="1430.77" cy="111.83" rx="4.46" ry="6.82"/><path d="M1427.11 114.31 L1434.37 108.04"/><ellipse cx="1444.01" cy="111.83" rx="4.46" ry="6.82"/><path d="M1440.36 114.31 L1447.62 108.04"/></g>
<g fill="#f2b914"><path d="M1459.00 103.97 L1459.00 118.65 L1456.70 118.65 L1456.70 106.94 L1452.94 108.59 L1452.17 106.83 Z M1452.50 117.61 H1462.18 V119.70 H1452.50 Z"/></g>
<g fill="none" stroke="#f2f2f2" stroke-width="2.26"><ellipse cx="1251.55" cy="149.26" rx="5.35" ry="8.18"/><path d="M1247.16 152.23 L1255.88 144.71"/><ellipse cx="1283.33" cy="149.26" rx="5.35" ry="8.18"/><path d="M1278.95 152.23 L1287.66 144.71"/><ellipse cx="1315.12" cy="149.26" rx="5.35" ry="8.18"/><path d="M1310.74 152.23 L1319.45 144.71"/><ellipse cx="1346.90" cy="149.26" rx="5.35" ry="8.18"/><path d="M1342.52 152.23 L1351.23 144.71"/></g>
<g fill="#f2f2f2"><path d="M1269.53 139.82 L1269.53 157.45 L1266.77 157.45 L1266.77 143.39 L1262.26 145.37 L1261.34 143.26 Z M1261.74 156.19 H1273.35 V158.70 H1261.74 Z"/><path d="M1301.32 139.82 L1301.32 157.45 L1298.56 157.45 L1298.56 143.39 L1294.05 145.37 L1293.13 143.26 Z M1293.52 156.19 H1305.14 V158.70 H1293.52 Z"/><path d="M1333.10 139.82 L1333.10 157.45 L1330.34 157.45 L1330.34 143.39 L1325.84 145.37 L1324.91 143.26 Z M1325.31 156.19 H1336.92 V158.70 H1325.31 Z"/><path d="M1364.89 139.82 L1364.89 157.45 L1362.13 157.45 L1362.13 143.39 L1357.62 145.37 L1356.70 143.26 Z M1357.09 156.19 H1368.71 V158.70 H1357.09 Z"/></g>
<g fill="none" stroke="#f2b914" stroke-width="1.88"><ellipse cx="1417.52" cy="149.84" rx="4.46" ry="6.82"/><path d="M1413.87 152.31 L1421.13 146.04"/><ellipse cx="1430.77" cy="149.84" rx="4.46" ry="6.82"/><path d="M1427.11 152.31 L1434.37 146.04"/><ellipse cx="1457.25" cy="149.84" rx="4.46" ry="6.82"/><path d="M1453.60 152.31 L1460.86 146.04"/></g>
<g fill="#f2b914"><path d="M1445.75 141.97 L1445.75 156.66 L1443.45 156.66 L1443.45 144.94 L1439.70 146.59 L1438.93 144.83 Z M1439.26 155.61 H1448.94 V157.70 H1439.26 Z"/></g>
<g fill="none" stroke="#f2f2f2" stroke-width="2.26"><ellipse cx="1315.12" cy="187.26" rx="5.35" ry="8.18"/><path d="M1310.74 190.23 L1319.45 182.71"/><ellipse cx="1346.90" cy="187.26" rx="5.35" ry="8.18"/><path d="M1342.52 190.23 L1351.23 182.71"/></g>
<g fill="#f2f2f2"><path d="M1253.64 177.82 L1253.64 195.45 L1250.88 195.45 L1250.88 181.39 L1246.37 183.37 L1245.45 181.26 Z M1245.84 194.19 H1257.46 V196.70 H1245.84 Z"/><path d="M1269.53 177.82 L1269.53 195.45 L1266.77 195.45 L1266.77 181.39 L1262.26 183.37 L1261.34 181.26 Z M1261.74 194.19 H1273.35 V196.70 H1261.74 Z"/><path d="M1285.42 177.82 L1285.42 195.45 L1282.67 195.45 L1282.67 181.39 L1278.16 183.37 L1277.23 181.26 Z M1277.63 194.19 H1289.25 V196.70 H1277.63 Z"/><path d="M1301.32 177.82 L1301.32 195.45 L1298.56 195.45 L1298.56 181.39 L1294.05 183.37 L1293.13 181.26 Z M1293.52 194.19 H1305.14 V196.70 H1293.52 Z"/><path d="M1333.10 177.82 L1333.10 195.45 L1330.34 195.45 L1330.34 181.39 L1325.84 183.37 L1324.91 181.26 Z M1325.31 194.19 H1336.92 V196.70 H1325.31 Z"/><path d="M1364.89 177.82 L1364.89 195.45 L1362.13 195.45 L1362.13 181.39 L1357.62 183.37 L1356.70 181.26 Z M1357.09 194.19 H1368.71 V196.70 H1357.09 Z"/></g>
<g fill="none" stroke="#f2b914" stroke-width="1.88"><ellipse cx="1417.52" cy="187.84" rx="4.46" ry="6.82"/><path d="M1413.87 190.31 L1421.13 184.04"/><ellipse cx="1430.77" cy="187.84" rx="4.46" ry="6.82"/><path d="M1427.11 190.31 L1434.37 184.04"/></g>
<g fill="#f2b914"><path d="M1445.75 179.97 L1445.75 194.66 L1443.45 194.66 L1443.45 182.94 L1439.70 184.59 L1438.93 182.83 Z M1439.26 193.61 H1448.94 V195.70 H1439.26 Z"/><path d="M1459.00 179.97 L1459.00 194.66 L1456.70 194.66 L1456.70 182.94 L1452.94 184.59 L1452.17 182.83 Z M1452.50 193.61 H1462.18 V195.70 H1452.50 Z"/></g>
<g fill="none" stroke="#f2f2f2" stroke-width="2.26"><ellipse cx="1283.33" cy="225.26" rx="5.35" ry="8.18"/><path d="M1278.95 228.23 L1287.66 220.71"/><ellipse cx="1346.90" cy="225.26" rx="5.35" ry="8.18"/><path d="M1342.52 228.23 L1351.23 220.71"/></g>
<g fill="#f2f2f2"><path d="M1253.64 215.82 L1253.64 233.45 L1250.88 233.45 L1250.88 219.39 L1246.37 221.37 L1245.45 219.26 Z M1245.84 232.19 H1257.46 V234.70 H1245.84 Z"/><path d="M1269.53 215.82 L1269.53 233.45 L1266.77 233.45 L1266.77 219.39 L1262.26 221.37 L1261.34 219.26 Z M1261.74 232.19 H1273.35 V234.70 H1261.74 Z"/><path d="M1301.32 215.82 L1301.32 233.45 L1298.56 233.45 L1298.56 219.39 L1294.05 221.37 L1293.13 219.26 Z M1293.52 232.19 H1305.14 V234.70 H1293.52 Z"/><path d="M1317.21 215.82 L1317.21 233.45 L1314.45 233.45 L1314.45 219.39 L1309.94 221.37 L1309.02 219.26 Z M1309.42 232.19 H1321.03 V234.70 H1309.42 Z"/><path d="M1333.10 215.82 L1333.10 233.45 L1330.34 233.45 L1330.34 219.39 L1325.84 221.37 L1324.91 219.26 Z M1325.31 232.19 H1336.92 V234.70 H1325.31 Z"/><path d="M1364.89 215.82 L1364.89 233.45 L1362.13 233.45 L1362.13 219.39 L1357.62 221.37 L1356.70 219.26 Z M1357.09 232.19 H1368.71 V234.70 H1357.09 Z"/></g>
<g fill="none" stroke="#f2b914" stroke-width="1.88"><ellipse cx="1417.52" cy="225.84" rx="4.46" ry="6.82"/><path d="M1413.87 228.31 L1421.13 222.04"/><ellipse cx="1444.01" cy="225.84" rx="4.46" ry="6.82"/><path d="M1440.36 228.31 L1447.62 222.04"/><ellipse cx="1457.25" cy="225.84" rx="4.46" ry="6.82"/><path d="M1453.60 228.31 L1460.86 222.04"/></g>
<g fill="#f2b914"><path d="M1432.51 217.97 L1432.51 232.66 L1430.21 232.66 L1430.21 220.94 L1426.45 222.59 L1425.68 220.83 Z M1426.01 231.61 H1435.69 V233.70 H1426.01 Z"/></g>
<g fill="none" stroke="#f2f2f2" stroke-width="2.26"><ellipse cx="1283.33" cy="263.26" rx="5.35" ry="8.18"/><path d="M1278.95 266.23 L1287.66 258.71"/><ellipse cx="1315.12" cy="263.26" rx="5.35" ry="8.18"/><path d="M1310.74 266.23 L1319.45 258.71"/><ellipse cx="1331.01" cy="263.26" rx="5.35" ry="8.18"/><path d="M1326.63 266.23 L1335.34 258.71"/></g>
<g fill="#f2f2f2"><path d="M1253.64 253.82 L1253.64 271.45 L1250.88 271.45 L1250.88 257.39 L1246.37 259.37 L1245.45 257.26 Z M1245.84 270.19 H1257.46 V272.70 H1245.84 Z"/><path d="M1269.53 253.82 L1269.53 271.45 L1266.77 271.45 L1266.77 257.39 L1262.26 259.37 L1261.34 257.26 Z M1261.74 270.19 H1273.35 V272.70 H1261.74 Z"/><path d="M1301.32 253.82 L1301.32 271.45 L1298.56 271.45 L1298.56 257.39 L1294.05 259.37 L1293.13 257.26 Z M1293.52 270.19 H1305.14 V272.70 H1293.52 Z"/><path d="M1349.00 253.82 L1349.00 271.45 L1346.24 271.45 L1346.24 257.39 L1341.73 259.37 L1340.80 257.26 Z M1341.20 270.19 H1352.82 V272.70 H1341.20 Z"/><path d="M1364.89 253.82 L1364.89 271.45 L1362.13 271.45 L1362.13 257.39 L1357.62 259.37 L1356.70 257.26 Z M1357.09 270.19 H1368.71 V272.70 H1357.09 Z"/></g>
<g fill="none" stroke="#f2b914" stroke-width="1.88"><ellipse cx="1417.52" cy="263.83" rx="4.46" ry="6.82"/><path d="M1413.87 266.31 L1421.13 260.04"/><ellipse cx="1444.01" cy="263.83" rx="4.46" ry="6.82"/><path d="M1440.36 266.31 L1447.62 260.04"/></g>
<g fill="#f2b914"><path d="M1432.51 255.97 L1432.51 270.65 L1430.21 270.65 L1430.21 258.94 L1426.45 260.59 L1425.68 258.83 Z M1426.01 269.61 H1435.69 V271.70 H1426.01 Z"/><path d="M1459.00 255.97 L1459.00 270.65 L1456.70 270.65 L1456.70 258.94 L1452.94 260.59 L1452.17 258.83 Z M1452.50 269.61 H1462.18 V271.70 H1452.50 Z"/></g>
<g fill="none" stroke="#f2f2f2" stroke-width="2.26"><ellipse cx="1283.33" cy="301.26" rx="5.35" ry="8.18"/><path d="M1278.95 304.23 L1287.66 296.71"/><ellipse cx="1299.22" cy="301.26" rx="5.35" ry="8.18"/><path d="M1294.84 304.23 L1303.55 296.71"/><ellipse cx="1346.90" cy="301.26" rx="5.35" ry="8.18"/><path d="M1342.52 304.23 L1351.23 296.71"/></g>
<g fill="#f2f2f2"><path d="M1253.64 291.82 L1253.64 309.45 L1250.88 309.45 L1250.88 295.39 L1246.37 297.37 L1245.45 295.26 Z M1245.84 308.19 H1257.46 V310.70 H1245.84 Z"/><path d="M1269.53 291.82 L1269.53 309.45 L1266.77 309.45 L1266.77 295.39 L1262.26 297.37 L1261.34 295.26 Z M1261.74 308.19 H1273.35 V310.70 H1261.74 Z"/><path d="M1317.21 291.82 L1317.21 309.45 L1314.45 309.45 L1314.45 295.39 L1309.94 297.37 L1309.02 295.26 Z M1309.42 308.19 H1321.03 V310.70 H1309.42 Z"/><path d="M1333.10 291.82 L1333.10 309.45 L1330.34 309.45 L1330.34 295.39 L1325.84 297.37 L1324.91 295.26 Z M1325.31 308.19 H1336.92 V310.70 H1325.31 Z"/><path d="M1364.89 291.82 L1364.89 309.45 L1362.13 309.45 L1362.13 295.39 L1357.62 297.37 L1356.70 295.26 Z M1357.09 308.19 H1368.71 V310.70 H1357.09 Z"/></g>
<g fill="none" stroke="#f2b914" stroke-width="1.88"><ellipse cx="1417.52" cy="301.83" rx="4.46" ry="6.82"/><path d="M1413.87 304.31 L1421.13 298.04"/><ellipse cx="1457.25" cy="301.83" rx="4.46" ry="6.82"/><path d="M1453.60 304.31 L1460.86 298.04"/></g>
<g fill="#f2b914"><path d="M1432.51 293.97 L1432.51 308.65 L1430.21 308.65 L1430.21 296.94 L1426.45 298.59 L1425.68 296.83 Z M1426.01 307.61 H1435.69 V309.70 H1426.01 Z"/><path d="M1445.75 293.97 L1445.75 308.65 L1443.45 308.65 L1443.45 296.94 L1439.70 298.59 L1438.93 296.83 Z M1439.26 307.61 H1448.94 V309.70 H1439.26 Z"/></g>
<g fill="none" stroke="#f2f2f2" stroke-width="2.26"><ellipse cx="1283.33" cy="339.26" rx="5.35" ry="8.18"/><path d="M1278.95 342.23 L1287.66 334.71"/><ellipse cx="1299.22" cy="339.26" rx="5.35" ry="8.18"/><path d="M1294.84 342.23 L1303.55 334.71"/><ellipse cx="1346.90" cy="339.26" rx="5.35" ry="8.18"/><path d="M1342.52 342.23 L1351.23 334.71"/><ellipse cx="1362.80" cy="339.26" rx="5.35" ry="8.18"/><path d="M1358.41 342.23 L1367.13 334.71"/></g>
<g fill="#f2f2f2"><path d="M1253.64 329.82 L1253.64 347.45 L1250.88 347.45 L1250.88 333.39 L1246.37 335.37 L1245.45 333.26 Z M1245.84 346.19 H1257.46 V348.70 H1245.84 Z"/><path d="M1269.53 329.82 L1269.53 347.45 L1266.77 347.45 L1266.77 333.39 L1262.26 335.37 L1261.34 333.26 Z M1261.74 346.19 H1273.35 V348.70 H1261.74 Z"/><path d="M1317.21 329.82 L1317.21 347.45 L1314.45 347.45 L1314.45 333.39 L1309.94 335.37 L1309.02 333.26 Z M1309.42 346.19 H1321.03 V348.70 H1309.42 Z"/><path d="M1333.10 329.82 L1333.10 347.45 L1330.34 347.45 L1330.34 333.39 L1325.84 335.37 L1324.91 333.26 Z M1325.31 346.19 H1336.92 V348.70 H1325.31 Z"/></g>
<g fill="none" stroke="#f2b914" stroke-width="1.88"><ellipse cx="1417.52" cy="339.83" rx="4.46" ry="6.82"/><path d="M1413.87 342.31 L1421.13 336.04"/></g>
<g fill="#f2b914"><path d="M1432.51 331.97 L1432.51 346.65 L1430.21 346.65 L1430.21 334.94 L1426.45 336.59 L1425.68 334.83 Z M1426.01 345.61 H1435.69 V347.70 H1426.01 Z"/><path d="M1445.75 331.97 L1445.75 346.65 L1443.45 346.65 L1443.45 334.94 L1439.70 336.59 L1438.93 334.83 Z M1439.26 345.61 H1448.94 V347.70 H1439.26 Z"/><path d="M1459.00 331.97 L1459.00 346.65 L1456.70 346.65 L1456.70 334.94 L1452.94 336.59 L1452.17 334.83 Z M1452.50 345.61 H1462.18 V347.70 H1452.50 Z"/></g>
<g fill="none" stroke="#f2f2f2" stroke-width="2.26"><ellipse cx="1283.33" cy="377.26" rx="5.35" ry="8.18"/><path d="M1278.95 380.23 L1287.66 372.71"/><ellipse cx="1299.22" cy="377.26" rx="5.35" ry="8.18"/><path d="M1294.84 380.23 L1303.55 372.71"/><ellipse cx="1346.90" cy="377.26" rx="5.35" ry="8.18"/><path d="M1342.52 380.23 L1351.23 372.71"/></g>
<g fill="#f2f2f2"><path d="M1253.64 367.82 L1253.64 385.45 L1250.88 385.45 L1250.88 371.39 L1246.37 373.37 L1245.45 371.26 Z M1245.84 384.19 H1257.46 V386.70 H1245.84 Z"/><path d="M1269.53 367.82 L1269.53 385.45 L1266.77 385.45 L1266.77 371.39 L1262.26 373.37 L1261.34 371.26 Z M1261.74 384.19 H1273.35 V386.70 H1261.74 Z"/><path d="M1317.21 367.82 L1317.21 385.45 L1314.45 385.45 L1314.45 371.39 L1309.94 373.37 L1309.02 371.26 Z M1309.42 384.19 H1321.03 V386.70 H1309.42 Z"/><path d="M1333.10 367.82 L1333.10 385.45 L1330.34 385.45 L1330.34 371.39 L1325.84 373.37 L1324.91 371.26 Z M1325.31 384.19 H1336.92 V386.70 H1325.31 Z"/><path d="M1364.89 367.82 L1364.89 385.45 L1362.13 385.45 L1362.13 371.39 L1357.62 373.37 L1356.70 371.26 Z M1357.09 384.19 H1368.71 V386.70 H1357.09 Z"/></g>
<g fill="none" stroke="#f2b914" stroke-width="1.88"><ellipse cx="1430.77" cy="377.83" rx="4.46" ry="6.82"/><path d="M1427.11 380.31 L1434.37 374.04"/><ellipse cx="1444.01" cy="377.83" rx="4.46" ry="6.82"/><path d="M1440.36 380.31 L1447.62 374.04"/><ellipse cx="1457.25" cy="377.83" rx="4.46" ry="6.82"/><path d="M1453.60 380.31 L1460.86 374.04"/></g>
<g fill="#f2b914"><path d="M1419.27 369.97 L1419.27 384.65 L1416.97 384.65 L1416.97 372.94 L1413.21 374.59 L1412.44 372.83 Z M1412.77 383.61 H1422.45 V385.70 H1412.77 Z"/></g>
<g fill="none" stroke="#f2f2f2" stroke-width="2.26"><ellipse cx="1267.44" cy="415.26" rx="5.35" ry="8.18"/><path d="M1263.06 418.23 L1271.77 410.71"/><ellipse cx="1299.22" cy="415.26" rx="5.35" ry="8.18"/><path d="M1294.84 418.23 L1303.55 410.71"/><ellipse cx="1346.90" cy="415.26" rx="5.35" ry="8.18"/><path d="M1342.52 418.23 L1351.23 410.71"/><ellipse cx="1362.80" cy="415.26" rx="5.35" ry="8.18"/><path d="M1358.41 418.23 L1367.13 410.71"/></g>
<g fill="#f2f2f2"><path d="M1253.64 405.82 L1253.64 423.45 L1250.88 423.45 L1250.88 409.39 L1246.37 411.37 L1245.45 409.26 Z M1245.84 422.19 H1257.46 V424.70 H1245.84 Z"/><path d="M1285.42 405.82 L1285.42 423.45 L1282.67 423.45 L1282.67 409.39 L1278.16 411.37 L1277.23 409.26 Z M1277.63 422.19 H1289.25 V424.70 H1277.63 Z"/><path d="M1317.21 405.82 L1317.21 423.45 L1314.45 423.45 L1314.45 409.39 L1309.94 411.37 L1309.02 409.26 Z M1309.42 422.19 H1321.03 V424.70 H1309.42 Z"/><path d="M1333.10 405.82 L1333.10 423.45 L1330.34 423.45 L1330.34 409.39 L1325.84 411.37 L1324.91 409.26 Z M1325.31 422.19 H1336.92 V424.70 H1325.31 Z"/></g>
<g fill="none" stroke="#f2b914" stroke-width="1.88"><ellipse cx="1430.77" cy="415.83" rx="4.46" ry="6.82"/><path d="M1427.11 418.31 L1434.37 412.04"/><ellipse cx="1444.01" cy="415.83" rx="4.46" ry="6.82"/><path d="M1440.36 418.31 L1447.62 412.04"/></g>
<g fill="#f2b914"><path d="M1419.27 407.97 L1419.27 422.65 L1416.97 422.65 L1416.97 410.94 L1413.21 412.59 L1412.44 410.83 Z M1412.77 421.61 H1422.45 V423.70 H1412.77 Z"/><path d="M1459.00 407.97 L1459.00 422.65 L1456.70 422.65 L1456.70 410.94 L1452.94 412.59 L1452.17 410.83 Z M1452.50 421.61 H1462.18 V423.70 H1452.50 Z"/></g>
<g fill="none" stroke="#f2f2f2" stroke-width="2.26"><ellipse cx="1251.55" cy="453.26" rx="5.35" ry="8.18"/><path d="M1247.16 456.23 L1255.88 448.71"/><ellipse cx="1267.44" cy="453.26" rx="5.35" ry="8.18"/><path d="M1263.06 456.23 L1271.77 448.71"/><ellipse cx="1315.12" cy="453.26" rx="5.35" ry="8.18"/><path d="M1310.74 456.23 L1319.45 448.71"/><ellipse cx="1346.90" cy="453.26" rx="5.35" ry="8.18"/><path d="M1342.52 456.23 L1351.23 448.71"/></g>
<g fill="#f2f2f2"><path d="M1285.42 443.82 L1285.42 461.45 L1282.67 461.45 L1282.67 447.39 L1278.16 449.37 L1277.23 447.26 Z M1277.63 460.19 H1289.25 V462.70 H1277.63 Z"/><path d="M1301.32 443.82 L1301.32 461.45 L1298.56 461.45 L1298.56 447.39 L1294.05 449.37 L1293.13 447.26 Z M1293.52 460.19 H1305.14 V462.70 H1293.52 Z"/><path d="M1333.10 443.82 L1333.10 461.45 L1330.34 461.45 L1330.34 447.39 L1325.84 449.37 L1324.91 447.26 Z M1325.31 460.19 H1336.92 V462.70 H1325.31 Z"/><path d="M1364.89 443.82 L1364.89 461.45 L1362.13 461.45 L1362.13 447.39 L1357.62 449.37 L1356.70 447.26 Z M1357.09 460.19 H1368.71 V462.70 H1357.09 Z"/></g>
<g fill="none" stroke="#f2b914" stroke-width="1.88"><ellipse cx="1430.77" cy="453.83" rx="4.46" ry="6.82"/><path d="M1427.11 456.31 L1434.37 450.04"/><ellipse cx="1457.25" cy="453.83" rx="4.46" ry="6.82"/><path d="M1453.60 456.31 L1460.86 450.04"/></g>
<g fill="#f2b914"><path d="M1419.27 445.97 L1419.27 460.65 L1416.97 460.65 L1416.97 448.94 L1413.21 450.59 L1412.44 448.83 Z M1412.77 459.61 H1422.45 V461.70 H1412.77 Z"/><path d="M1445.75 445.97 L1445.75 460.65 L1443.45 460.65 L1443.45 448.94 L1439.70 450.59 L1438.93 448.83 Z M1439.26 459.61 H1448.94 V461.70 H1439.26 Z"/></g>
<g fill="none" stroke="#f2f2f2" stroke-width="2.26"><ellipse cx="1251.55" cy="491.26" rx="5.35" ry="8.18"/><path d="M1247.16 494.23 L1255.88 486.71"/><ellipse cx="1283.33" cy="491.26" rx="5.35" ry="8.18"/><path d="M1278.95 494.23 L1287.66 486.71"/><ellipse cx="1299.22" cy="491.26" rx="5.35" ry="8.18"/><path d="M1294.84 494.23 L1303.55 486.71"/><ellipse cx="1346.90" cy="491.26" rx="5.35" ry="8.18"/><path d="M1342.52 494.23 L1351.23 486.71"/></g>
<g fill="#f2f2f2"><path d="M1269.53 481.82 L1269.53 499.45 L1266.77 499.45 L1266.77 485.39 L1262.26 487.37 L1261.34 485.26 Z M1261.74 498.19 H1273.35 V500.70 H1261.74 Z"/><path d="M1317.21 481.82 L1317.21 499.45 L1314.45 499.45 L1314.45 485.39 L1309.94 487.37 L1309.02 485.26 Z M1309.42 498.19 H1321.03 V500.70 H1309.42 Z"/><path d="M1333.10 481.82 L1333.10 499.45 L1330.34 499.45 L1330.34 485.39 L1325.84 487.37 L1324.91 485.26 Z M1325.31 498.19 H1336.92 V500.70 H1325.31 Z"/><path d="M1364.89 481.82 L1364.89 499.45 L1362.13 499.45 L1362.13 485.39 L1357.62 487.37 L1356.70 485.26 Z M1357.09 498.19 H1368.71 V500.70 H1357.09 Z"/></g>
<g fill="none" stroke="#f2b914" stroke-width="1.88"><ellipse cx="1430.77" cy="491.83" rx="4.46" ry="6.82"/><path d="M1427.11 494.31 L1434.37 488.04"/></g>
<g fill="#f2b914"><path d="M1419.27 483.97 L1419.27 498.65 L1416.97 498.65 L1416.97 486.94 L1413.21 488.59 L1412.44 486.83 Z M1412.77 497.61 H1422.45 V499.70 H1412.77 Z"/><path d="M1445.75 483.97 L1445.75 498.65 L1443.45 498.65 L1443.45 486.94 L1439.70 488.59 L1438.93 486.83 Z M1439.26 497.61 H1448.94 V499.70 H1439.26 Z"/><path d="M1459.00 483.97 L1459.00 498.65 L1456.70 498.65 L1456.70 486.94 L1452.94 488.59 L1452.17 486.83 Z M1452.50 497.61 H1462.18 V499.70 H1452.50 Z"/></g>
<g fill="none" stroke="#f2f2f2" stroke-width="2.26"><ellipse cx="1283.33" cy="529.26" rx="5.35" ry="8.18"/><path d="M1278.95 532.23 L1287.66 524.71"/><ellipse cx="1315.12" cy="529.26" rx="5.35" ry="8.18"/><path d="M1310.74 532.23 L1319.45 524.71"/><ellipse cx="1346.90" cy="529.26" rx="5.35" ry="8.18"/><path d="M1342.52 532.23 L1351.23 524.71"/></g>
<g fill="#f2f2f2"><path d="M1253.64 519.82 L1253.64 537.45 L1250.88 537.45 L1250.88 523.39 L1246.37 525.37 L1245.45 523.26 Z M1245.84 536.19 H1257.46 V538.70 H1245.84 Z"/><path d="M1269.53 519.82 L1269.53 537.45 L1266.77 537.45 L1266.77 523.39 L1262.26 525.37 L1261.34 523.26 Z M1261.74 536.19 H1273.35 V538.70 H1261.74 Z"/><path d="M1301.32 519.82 L1301.32 537.45 L1298.56 537.45 L1298.56 523.39 L1294.05 525.37 L1293.13 523.26 Z M1293.52 536.19 H1305.14 V538.70 H1293.52 Z"/><path d="M1333.10 519.82 L1333.10 537.45 L1330.34 537.45 L1330.34 523.39 L1325.84 525.37 L1324.91 523.26 Z M1325.31 536.19 H1336.92 V538.70 H1325.31 Z"/><path d="M1364.89 519.82 L1364.89 537.45 L1362.13 537.45 L1362.13 523.39 L1357.62 525.37 L1356.70 523.26 Z M1357.09 536.19 H1368.71 V538.70 H1357.09 Z"/></g>
<g fill="none" stroke="#f2b914" stroke-width="1.88"><ellipse cx="1444.01" cy="529.84" rx="4.46" ry="6.82"/><path d="M1440.36 532.31 L1447.62 526.04"/><ellipse cx="1457.25" cy="529.84" rx="4.46" ry="6.82"/><path d="M1453.60 532.31 L1460.86 526.04"/></g>
<g fill="#f2b914"><path d="M1419.27 521.97 L1419.27 536.66 L1416.97 536.66 L1416.97 524.94 L1413.21 526.59 L1412.44 524.83 Z M1412.77 535.61 H1422.45 V537.70 H1412.77 Z"/><path d="M1432.51 521.97 L1432.51 536.66 L1430.21 536.66 L1430.21 524.94 L1426.45 526.59 L1425.68 524.83 Z M1426.01 535.61 H1435.69 V537.70 H1426.01 Z"/></g>
<g fill="none" stroke="#f2f2f2" stroke-width="2.26"><ellipse cx="1283.33" cy="567.26" rx="5.35" ry="8.18"/><path d="M1278.95 570.23 L1287.66 562.71"/><ellipse cx="1299.22" cy="567.26" rx="5.35" ry="8.18"/><path d="M1294.84 570.23 L1303.55 562.71"/><ellipse cx="1346.90" cy="567.26" rx="5.35" ry="8.18"/><path d="M1342.52 570.23 L1351.23 562.71"/></g>
<g fill="#f2f2f2"><path d="M1253.64 557.82 L1253.64 575.45 L1250.88 575.45 L1250.88 561.39 L1246.37 563.37 L1245.45 561.26 Z M1245.84 574.19 H1257.46 V576.70 H1245.84 Z"/><path d="M1269.53 557.82 L1269.53 575.45 L1266.77 575.45 L1266.77 561.39 L1262.26 563.37 L1261.34 561.26 Z M1261.74 574.19 H1273.35 V576.70 H1261.74 Z"/><path d="M1317.21 557.82 L1317.21 575.45 L1314.45 575.45 L1314.45 561.39 L1309.94 563.37 L1309.02 561.26 Z M1309.42 574.19 H1321.03 V576.70 H1309.42 Z"/><path d="M1333.10 557.82 L1333.10 575.45 L1330.34 575.45 L1330.34 561.39 L1325.84 563.37 L1324.91 561.26 Z M1325.31 574.19 H1336.92 V576.70 H1325.31 Z"/><path d="M1364.89 557.82 L1364.89 575.45 L1362.13 575.45 L1362.13 561.39 L1357.62 563.37 L1356.70 561.26 Z M1357.09 574.19 H1368.71 V576.70 H1357.09 Z"/></g>
<g fill="none" stroke="#f2b914" stroke-width="1.88"><ellipse cx="1444.01" cy="567.83" rx="4.46" ry="6.82"/><path d="M1440.36 570.31 L1447.62 564.04"/></g>
<g fill="#f2b914"><path d="M1419.27 559.97 L1419.27 574.65 L1416.97 574.65 L1416.97 562.94 L1413.21 564.59 L1412.44 562.83 Z M1412.77 573.61 H1422.45 V575.70 H1412.77 Z"/><path d="M1432.51 559.97 L1432.51 574.65 L1430.21 574.65 L1430.21 562.94 L1426.45 564.59 L1425.68 562.83 Z M1426.01 573.61 H1435.69 V575.70 H1426.01 Z"/><path d="M1459.00 559.97 L1459.00 574.65 L1456.70 574.65 L1456.70 562.94 L1452.94 564.59 L1452.17 562.83 Z M1452.50 573.61 H1462.18 V575.70 H1452.50 Z"/></g>
<g fill="none" stroke="#f2f2f2" stroke-width="2.26"><ellipse cx="1283.33" cy="605.26" rx="5.35" ry="8.18"/><path d="M1278.95 608.23 L1287.66 600.71"/><ellipse cx="1315.12" cy="605.26" rx="5.35" ry="8.18"/><path d="M1310.74 608.23 L1319.45 600.71"/><ellipse cx="1346.90" cy="605.26" rx="5.35" ry="8.18"/><path d="M1342.52 608.23 L1351.23 600.71"/></g>
<g fill="#f2f2f2"><path d="M1253.64 595.82 L1253.64 613.45 L1250.88 613.45 L1250.88 599.39 L1246.37 601.37 L1245.45 599.26 Z M1245.84 612.19 H1257.46 V614.70 H1245.84 Z"/><path d="M1269.53 595.82 L1269.53 613.45 L1266.77 613.45 L1266.77 599.39 L1262.26 601.37 L1261.34 599.26 Z M1261.74 612.19 H1273.35 V614.70 H1261.74 Z"/><path d="M1301.32 595.82 L1301.32 613.45 L1298.56 613.45 L1298.56 599.39 L1294.05 601.37 L1293.13 599.26 Z M1293.52 612.19 H1305.14 V614.70 H1293.52 Z"/><path d="M1333.10 595.82 L1333.10 613.45 L1330.34 613.45 L1330.34 599.39 L1325.84 601.37 L1324.91 599.26 Z M1325.31 612.19 H1336.92 V614.70 H1325.31 Z"/><path d="M1364.89 595.82 L1364.89 613.45 L1362.13 613.45 L1362.13 599.39 L1357.62 601.37 L1356.70 599.26 Z M1357.09 612.19 H1368.71 V614.70 H1357.09 Z"/></g>
<g fill="none" stroke="#f2b914" stroke-width="1.88"><ellipse cx="1457.25" cy="605.83" rx="4.46" ry="6.82"/><path d="M1453.60 608.31 L1460.86 602.04"/></g>
<g fill="#f2b914"><path d="M1419.27 597.97 L1419.27 612.65 L1416.97 612.65 L1416.97 600.94 L1413.21 602.59 L1412.44 600.83 Z M1412.77 611.61 H1422.45 V613.70 H1412.77 Z"/><path d="M1432.51 597.97 L1432.51 612.65 L1430.21 612.65 L1430.21 600.94 L1426.45 602.59 L1425.68 600.83 Z M1426.01 611.61 H1435.69 V613.70 H1426.01 Z"/><path d="M1445.75 597.97 L1445.75 612.65 L1443.45 612.65 L1443.45 600.94 L1439.70 602.59 L1438.93 600.83 Z M1439.26 611.61 H1448.94 V613.70 H1439.26 Z"/></g>
<g fill="none" stroke="#f2f2f2" stroke-width="2.26"><ellipse cx="1283.33" cy="643.26" rx="5.35" ry="8.18"/><path d="M1278.95 646.23 L1287.66 638.71"/><ellipse cx="1299.22" cy="643.26" rx="5.35" ry="8.18"/><path d="M1294.84 646.23 L1303.55 638.71"/><ellipse cx="1346.90" cy="643.26" rx="5.35" ry="8.18"/><path d="M1342.52 646.23 L1351.23 638.71"/></g>
<g fill="#f2f2f2"><path d="M1253.64 633.82 L1253.64 651.45 L1250.88 651.45 L1250.88 637.39 L1246.37 639.37 L1245.45 637.26 Z M1245.84 650.19 H1257.46 V652.70 H1245.84 Z"/><path d="M1269.53 633.82 L1269.53 651.45 L1266.77 651.45 L1266.77 637.39 L1262.26 639.37 L1261.34 637.26 Z M1261.74 650.19 H1273.35 V652.70 H1261.74 Z"/><path d="M1317.21 633.82 L1317.21 651.45 L1314.45 651.45 L1314.45 637.39 L1309.94 639.37 L1309.02 637.26 Z M1309.42 650.19 H1321.03 V652.70 H1309.42 Z"/><path d="M1333.10 633.82 L1333.10 651.45 L1330.34 651.45 L1330.34 637.39 L1325.84 639.37 L1324.91 637.26 Z M1325.31 650.19 H1336.92 V652.70 H1325.31 Z"/><path d="M1364.89 633.82 L1364.89 651.45 L1362.13 651.45 L1362.13 637.39 L1357.62 639.37 L1356.70 637.26 Z M1357.09 650.19 H1368.71 V652.70 H1357.09 Z"/></g>
<g fill="#f2b914"><path d="M1419.27 635.97 L1419.27 650.65 L1416.97 650.65 L1416.97 638.94 L1413.21 640.59 L1412.44 638.83 Z M1412.77 649.61 H1422.45 V651.70 H1412.77 Z"/><path d="M1432.51 635.97 L1432.51 650.65 L1430.21 650.65 L1430.21 638.94 L1426.45 640.59 L1425.68 638.83 Z M1426.01 649.61 H1435.69 V651.70 H1426.01 Z"/><path d="M1445.75 635.97 L1445.75 650.65 L1443.45 650.65 L1443.45 638.94 L1439.70 640.59 L1438.93 638.83 Z M1439.26 649.61 H1448.94 V651.70 H1439.26 Z"/><path d="M1459.00 635.97 L1459.00 650.65 L1456.70 650.65 L1456.70 638.94 L1452.94 640.59 L1452.17 638.83 Z M1452.50 649.61 H1462.18 V651.70 H1452.50 Z"/></g>
</svg>
</body></html>
